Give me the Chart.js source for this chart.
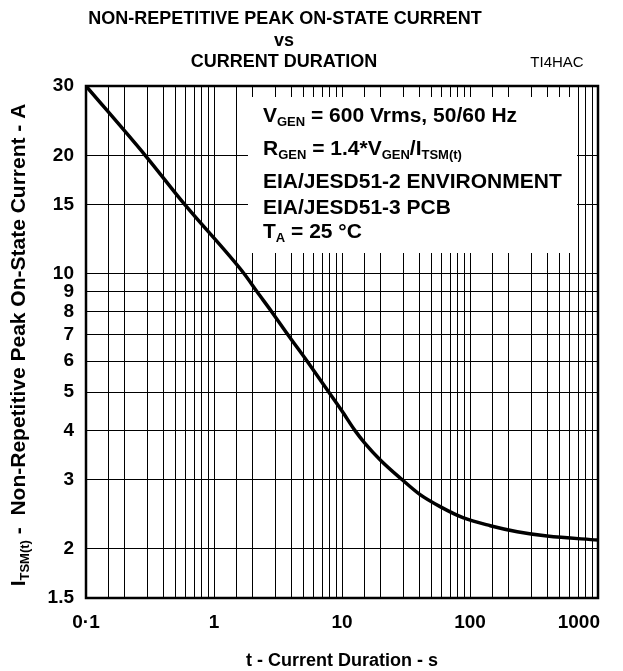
<!DOCTYPE html>
<html>
<head>
<meta charset="utf-8">
<script src="https://cdn.jsdelivr.net/npm/chart.js@4.4.1/dist/chart.umd.min.js"></script>
<style>
  html, body { margin: 0; padding: 0; background: #fff; overflow: hidden; }
  canvas { display: block; }
</style>
</head>
<body>
<canvas id="c" width="623" height="671" style="width:623px;height:671px"></canvas>
<script>
// ---- data ----
const durations = [0.1, 0.29, 0.59, 1.72, 2.17, 2.83, 3.78, 5.33, 7.9, 10, 12.6, 15, 20, 29.4, 40.5, 58.4, 88, 144, 234, 400, 1000];
const currents  = [30, 20, 15, 10, 9, 8, 7, 6, 5, 4.48, 4, 3.72, 3.36, 3.0, 2.75, 2.56, 2.40, 2.29, 2.21, 2.155, 2.105];

// grid / tick positions
const xGridValues = [0.1, 0.15, 0.2, 0.3, 0.4, 0.5, 0.6, 0.7, 0.8, 0.9,
                     1, 1.5, 2, 3, 4, 5, 6, 7, 8, 9,
                     10, 15, 20, 30, 40, 50, 60, 70, 80, 90,
                     100, 150, 200, 300, 400, 500, 600, 700, 800, 900, 1000];
const xLabelValues = [0.1, 1, 10, 100, 1000];
const xLabelTexts  = ['0·1', '1', '10', '100', '1000'];
const yGridValues = [1.5, 2, 3, 4, 5, 6, 7, 8, 9, 10, 15, 20, 30];
const yTickLabels = ['1.5', '2', '3', '4', '5', '6', '7', '8', '9', '10', '15', '20', '30'];

const titleLines = ['NON-REPETITIVE PEAK ON-STATE CURRENT', 'vs', 'CURRENT DURATION'];
const figureCode = 'TI4HAC';
const xAxisTitle = 't - Current Duration - s';

const FONT = "'Liberation Sans', Arial, Helvetica, sans-serif";

function drawRich(ctx, x, y, parts, size, subSize) {
  let cx = x;
  for (const [txt, sub] of parts) {
    ctx.font = 'bold ' + (sub ? subSize : size) + 'px ' + FONT;
    ctx.fillText(txt, cx, sub ? y + Math.round(size * 0.3) : y);
    cx += ctx.measureText(txt).width;
  }
  return cx - x;
}
function richWidth(ctx, parts, size, subSize) {
  let w = 0;
  for (const [txt, sub] of parts) {
    ctx.font = 'bold ' + (sub ? subSize : size) + 'px ' + FONT;
    w += ctx.measureText(txt).width;
  }
  return w;
}

const decorPlugin = {
  id: 'decor',
  beforeDatasetsDraw(chart) {
    const ctx = chart.ctx;
    ctx.save();
    ctx.fillStyle = '#fff';
    ctx.fillRect(248, 97, 329, 156);
    ctx.fillStyle = '#000';
    ctx.textBaseline = 'middle';
    ctx.textAlign = 'left';
    const S = 21, s = 13, x0 = 263;
    drawRich(ctx, x0, 116, [['V', 0], ['GEN', 1], [' = 600 Vrms, 50/60 Hz', 0]], S, s);
    drawRich(ctx, x0, 149, [['R', 0], ['GEN', 1], [' = 1.4*V', 0], ['GEN', 1], ['/I', 0], ['TSM(t)', 1]], S, s);
    drawRich(ctx, x0, 182, [['EIA/JESD51-2 ENVIRONMENT', 0]], S, s);
    drawRich(ctx, x0, 208, [['EIA/JESD51-3 PCB', 0]], S, s);
    drawRich(ctx, x0, 232, [['T', 0], ['A', 1], [' = 25 °C', 0]], S, s);
    ctx.restore();
  },
  afterDraw(chart) {
    const ctx = chart.ctx;
    const a = chart.chartArea;
    const xs = chart.scales.x;
    ctx.save();
    ctx.strokeStyle = '#000';
    ctx.lineWidth = 2.5;
    ctx.strokeRect(a.left, a.top, a.right - a.left, a.bottom - a.top);
    ctx.fillStyle = '#000';
    ctx.textBaseline = 'middle';
    // x tick labels
    ctx.font = 'bold 19px ' + FONT;
    xLabelValues.forEach((v, i) => {
      const px = xs.getPixelForValue(v);
      if (i === xLabelValues.length - 1) { ctx.textAlign = 'right'; ctx.fillText(xLabelTexts[i], px + 2, 623); }
      else { ctx.textAlign = 'center'; ctx.fillText(xLabelTexts[i], px, 623); }
    });
    // titles
    ctx.textAlign = 'center';
    ctx.font = 'bold 18px ' + FONT;
    ctx.fillText(titleLines[0], 285, 19);
    ctx.fillText(titleLines[1], 284, 41);
    ctx.fillText(titleLines[2], 284, 62);
    ctx.font = '15px ' + FONT;
    ctx.fillText(figureCode, 557, 63);
    ctx.font = 'bold 18px ' + FONT;
    ctx.fillText(xAxisTitle, (a.left + a.right) / 2, 661);
    // y axis title (rotated)
    const parts = [['I', 0], ['TSM(t)', 1], [' -  Non-Repetitive Peak On-State Current - A', 0]];
    const w = richWidth(ctx, parts, 21, 13);
    ctx.translate(19, 345);
    ctx.rotate(-Math.PI / 2);
    ctx.textAlign = 'left';
    drawRich(ctx, -w / 2, 0, parts, 21, 13);
    ctx.restore();
  }
};

new Chart(document.getElementById('c'), {
  type: 'line',
  data: {
    datasets: [{
      data: durations.map((t, i) => ({ x: t, y: currents[i] })),
      borderColor: '#000',
      borderWidth: 3.5,
      pointRadius: 0,
      fill: false,
      cubicInterpolationMode: 'monotone'
    }]
  },
  options: {
    responsive: false,
    devicePixelRatio: 1,
    animation: false,
    layout: { padding: { left: 0, right: 25, top: 86, bottom: 0 } },
    plugins: { legend: { display: false }, title: { display: false }, tooltip: { enabled: false } },
    scales: {
      x: {
        type: 'logarithmic',
        min: 0.1, max: 1000,
        afterBuildTicks(scale) { scale.ticks = xGridValues.map(v => ({ value: v })); },
        afterFit(scale) { scale.height = 73; },
        ticks: { display: false, autoSkip: false },
        grid: { color: '#000', lineWidth: 1, drawTicks: false },
        border: { display: false }
      },
      y: {
        type: 'logarithmic',
        min: 1.5, max: 30,
        afterBuildTicks(scale) { scale.ticks = yGridValues.map(v => ({ value: v })); },
        afterFit(scale) { scale.width = 86; },
        ticks: {
          autoSkip: false, padding: 12,
          color: '#000',
          font: { family: FONT, size: 19, weight: 'bold' },
          callback(v) { const i = yGridValues.indexOf(v); return i >= 0 ? yTickLabels[i] : ''; }
        },
        grid: { color: '#000', lineWidth: 1, drawTicks: false },
        border: { display: false }
      }
    }
  },
  plugins: [decorPlugin]
});
</script>
</body>
</html>
